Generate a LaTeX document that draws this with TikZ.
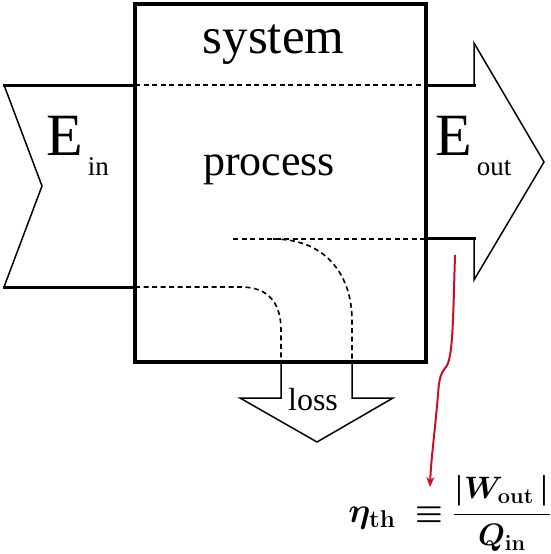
\RequirePackage{fix-cm}
\documentclass[tikz,border=0pt]{standalone}
\usepackage{fontspec}
\setmainfont{Liberation Serif}
\usepackage{amsmath}
\usetikzlibrary{arrows.meta,calc}
\definecolor{PointerClr}{rgb}{0.80,0.05,0.15}
\newcommand{\effic}{\ensuremath{\displaystyle \text{\scalebox{1.12}{$\eta_{\mathbf{th}}$}}\;\equiv\frac{\lvert W_{\mathbf{out}}\,\rvert}{Q_{\mathbf{in}}}}}

\begin{document}
\begin{tikzpicture}[x=1pt,y=-1pt,
  wall/.style={line width=3pt,line cap=rect},
  edge/.style={line width=1.5pt,line join=miter},
  flow/.style={line width=1.6pt,dash pattern=on 5pt off 3.5pt},
  lbl/.style={inner sep=0pt,anchor=base}]
\useasboundingbox (0,0) rectangle (551,554);

\coordinate (SW) at (135,362);
\coordinate (NE) at (426,4);

% input arrow
\draw[wall] (135,85) -- (4,85);
\draw[wall] (135,287) -- (4,287);
\draw[edge] (4,85) -- (42,186) -- (4,287);

% output arrow
\draw[wall] (426,85) -- (474,85);
\draw[wall] (426,238) -- (474,238);
\draw[edge] (474,85) -- (474,43) -- (544,162) -- (474,280) -- (474,238);

% loss arrow
\draw[edge] (281,362) -- (281,398) -- (240,398) -- (317,442) -- (393,398)
  -- (352,398) -- (352,362);

\draw[flow] (135,85) -- (426,85);
\draw[flow] (135,287) -- (241,287) .. controls (270,287) and (281,305) .. (281,330) -- (281,362);
\draw[flow] (233,239) -- (426,239);
\draw[flow] (273,239) .. controls (330,239) and (352,280) .. (352,320) -- (352,362);

\draw[line width=3.2pt] (SW) rectangle (NE);

\node[lbl] (sys) at (273.5,53) {\fontsize{51}{60}\selectfont system};
\node[lbl] (proc) at (269,175) {\fontsize{44}{50}\selectfont process};
\node[lbl,anchor=base west] (ein) at (46,155)
  {\fontsize{60}{70}\selectfont E\hspace{5pt}\raisebox{-20pt}{\fontsize{27}{30}\selectfont in}};
\node[lbl,anchor=base west] (eout) at (435,155)
  {\fontsize{60}{70}\selectfont E\hspace{5pt}\raisebox{-20pt}{\fontsize{27}{30}\selectfont out}};
\node[lbl] (loss) at (313,410) {\fontsize{32}{36}\selectfont loss};

\node[inner sep=0pt,anchor=base east,font=\fontsize{31}{36}\selectfont\boldmath] (eff) at (551,522) {\effic};

\coordinate (src) at (455,255);
\coordinate (dst) at (430,487);
\draw[PointerClr,line width=2pt,-{Stealth[length=10pt,width=8pt]}]
  (src) .. controls (453,320) and (453,358) .. (446,367)
  .. controls (440,374) and (439,380) .. (438,395)
  .. controls (434,440) and (431,460) .. (dst);

\end{tikzpicture}
\end{document}
